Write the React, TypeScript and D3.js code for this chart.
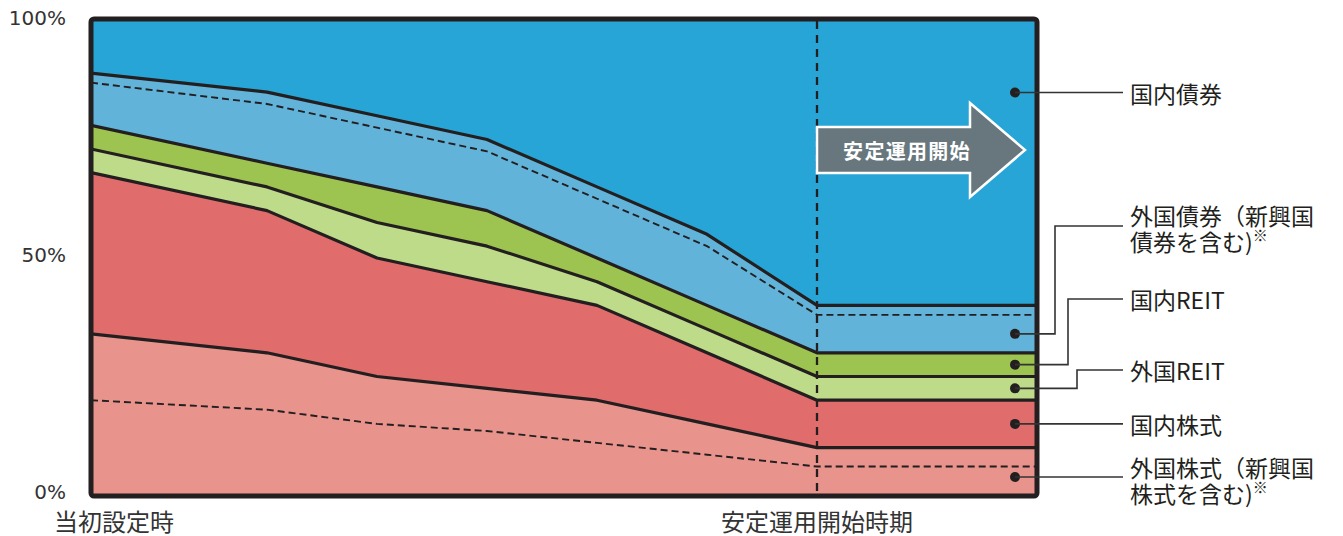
import React from "react";
import * as d3 from "d3";

// period index (horizontal position of each vertex), last entry = right edge of chart
const periods = [0, 16, 26, 36, 46, 56, 66, 86];
// allocation shares (%)
const foreignStock = [34, 30, 25, 22.5, 20, 15, 10, 10];
const domesticStock = [34, 30, 25, 22.5, 20, 15, 10, 10];
const foreignREIT = [5, 5, 7.5, 7.5, 5, 5, 5, 5];
const domesticREIT = [5, 5, 7.5, 7.5, 5, 5, 5, 5];
const foreignBond = [11, 15, 15, 15, 15, 15, 10, 10];
const domesticBond = [11, 15, 20, 25, 35, 45, 60, 60];
// dashed sub-division lines
const foreignStockLower = [20, 18, 15, 13.5, 11, 8.5, 6, 6];
const foreignBondUpper = [2, 2.5, 2.5, 2.5, 2.5, 2.5, 2, 2];

const yTicks = [0, 50, 100];
const startLabel = "当初設定時";
const stableLabel = "安定運用開始時期";
const arrowLabel = "安定運用開始";

const keys = ["foreignStock", "domesticStock", "foreignREIT", "domesticREIT", "foreignBond", "domesticBond"];
const colors: Record<string, string> = {
  foreignStock: "#e8938b",
  domesticStock: "#e06c6c",
  foreignREIT: "#bddb88",
  domesticREIT: "#9dc351",
  foreignBond: "#62b3d9",
  domesticBond: "#27a5d6",
};

const INK = "#231f20";
const JP = "'Noto Sans CJK JP', 'Noto Sans', sans-serif";

export default function App() {
  const x = d3.scaleLinear().domain([0, 86]).range([91, 1037]);
  const y = d3.scaleLinear().domain([0, 100]).range([495, 21]);

  const rows = periods.map((p, i) => ({
    period: p,
    foreignStock: foreignStock[i],
    domesticStock: domesticStock[i],
    foreignREIT: foreignREIT[i],
    domesticREIT: domesticREIT[i],
    foreignBond: foreignBond[i],
    domesticBond: domesticBond[i],
  }));
  const series = d3.stack<any>().keys(keys)(rows);

  const area = d3
    .area<any>()
    .x((d) => x(d.data.period))
    .y0((d) => y(d[0]))
    .y1((d) => y(d[1]));

  const line = d3
    .line<number>()
    .x((_, i) => x(periods[i]))
    .y((d) => y(d));

  const tops = series.slice(0, 5).map((s) => s.map((d) => d[1]));
  const bondTop = series[4].map((d) => d[1]);
  const bondDashed = bondTop.map((v, i) => v - foreignBondUpper[i]);

  const xStable = x(periods[6]);
  const last = periods.length - 1;
  const mid = (lo: number, hi: number) => (lo + hi) / 2;

  const s = series.map((ser) => ser[last]);
  const markerVals = [
    84.9,
    mid(s[4][0], bondDashed[last]),
    mid(s[3][0], s[3][1]),
    mid(s[2][0], s[2][1]),
    mid(s[1][0], s[1][1]),
    mid(0, foreignStockLower[last]) + 0.8,
  ];
  const dotX = 1015;
  const labelX = 1130;
  const lineEnd = 1123;

  const labels = [
    { lines: ["国内債券"], ly: y(markerVals[0]), elbow: null as number | null, ty: [y(markerVals[0])] },
    { lines: ["外国債券（新興国", "債券を含む)"], ly: 226, elbow: 1055, ty: [215, 241], star: true },
    { lines: ["国内REIT"], ly: 299, elbow: 1068, ty: [299] },
    { lines: ["外国REIT"], ly: 370, elbow: 1077, ty: [370] },
    { lines: ["国内株式"], ly: y(markerVals[4]), elbow: null, ty: [y(markerVals[4])] },
    { lines: ["外国株式（新興国", "株式を含む)"], ly: y(markerVals[5]), elbow: null, ty: [467, 493], star: true },
  ];

  const arrowPts = [
    [xStable, 127],
    [970, 127],
    [970, 103],
    [1025, 150],
    [970, 197],
    [970, 173],
    [xStable, 173],
  ];

  return (
    <svg
      width={1343}
      height={536}
      style={{ position: "absolute", left: 0, top: 0, background: "#fff" }}
    >
      <defs>
        <clipPath id="plot">
          <rect x={91} y={21} width={946} height={474} />
        </clipPath>
      </defs>
      <g clipPath="url(#plot)">
        <rect x={91} y={21} width={946} height={474} fill={colors.domesticBond} />
        {series.map((ser) => (
          <path key={ser.key} d={area(ser as any) || ""} fill={colors[ser.key]} />
        ))}
        {tops.map((t, i) => (
          <path key={i} d={line(t) || ""} fill="none" stroke={INK} strokeWidth={3.2} strokeLinejoin="round" />
        ))}
        <path d={line(bondDashed) || ""} fill="none" stroke={INK} strokeWidth={1.9} strokeDasharray="7 4" />
        <path d={line(foreignStockLower) || ""} fill="none" stroke={INK} strokeWidth={1.9} strokeDasharray="7 4" />
        <line x1={xStable} x2={xStable} y1={21} y2={495} stroke={INK} strokeWidth={2.3} strokeDasharray="8 6" />
        <polygon
          points={arrowPts.map((p) => p.join(",")).join(" ")}
          fill="#68777e"
          stroke="#ffffff"
          strokeWidth={2.5}
        />
        <text
          x={907}
          y={150}
          fill="#ffffff"
          fontFamily={JP}
          fontWeight={700}
          fontSize={20}
          letterSpacing={1.3}
          textAnchor="middle"
          dominantBaseline="central"
        >
          {arrowLabel}
        </text>
        {markerVals.map((v, i) => (
          <circle key={i} cx={dotX} cy={y(v)} r={5} fill={INK} />
        ))}
      </g>
      <rect x={91} y={19} width={946} height={477} rx={3} fill="none" stroke={INK} strokeWidth={5} />

      {labels.map((lb, i) => {
        const dy = y(markerVals[i]);
        const d =
          lb.elbow != null
            ? `M${dotX},${dy}H${lb.elbow}V${lb.ly}H${lineEnd}`
            : `M${dotX},${dy}H${lineEnd}`;
        return (
          <g key={i}>
            <path d={d} fill="none" stroke="#333" strokeWidth={1.6} />
            {lb.lines.map((t, j) => (
              <text
                key={j}
                x={labelX}
                y={lb.ty[j]}
                fontFamily={JP}
                fontSize={23}
                fill={INK}
                dominantBaseline="central"
              >
                {t}
                {lb.star && j === 1 ? (
                  <tspan fontSize={15} dy={-7}>
                    ※
                  </tspan>
                ) : null}
              </text>
            ))}
          </g>
        );
      })}

      {yTicks.map((t) => (
        <text
          key={t}
          x={66}
          y={y(t) - 3}
          textAnchor="end"
          dominantBaseline="central"
          fontFamily="'DejaVu Sans', Verdana, sans-serif"
          fontSize={20}
          fill="#333"
        >
          {t}%
        </text>
      ))}
      <text x={54} y={520} fontFamily={JP} fontSize={24} fill="#333" dominantBaseline="central">
        {startLabel}
      </text>
      <text
        x={xStable}
        y={520}
        fontFamily={JP}
        fontSize={24}
        fill="#333"
        textAnchor="middle"
        dominantBaseline="central"
      >
        {stableLabel}
      </text>
    </svg>
  );
}
